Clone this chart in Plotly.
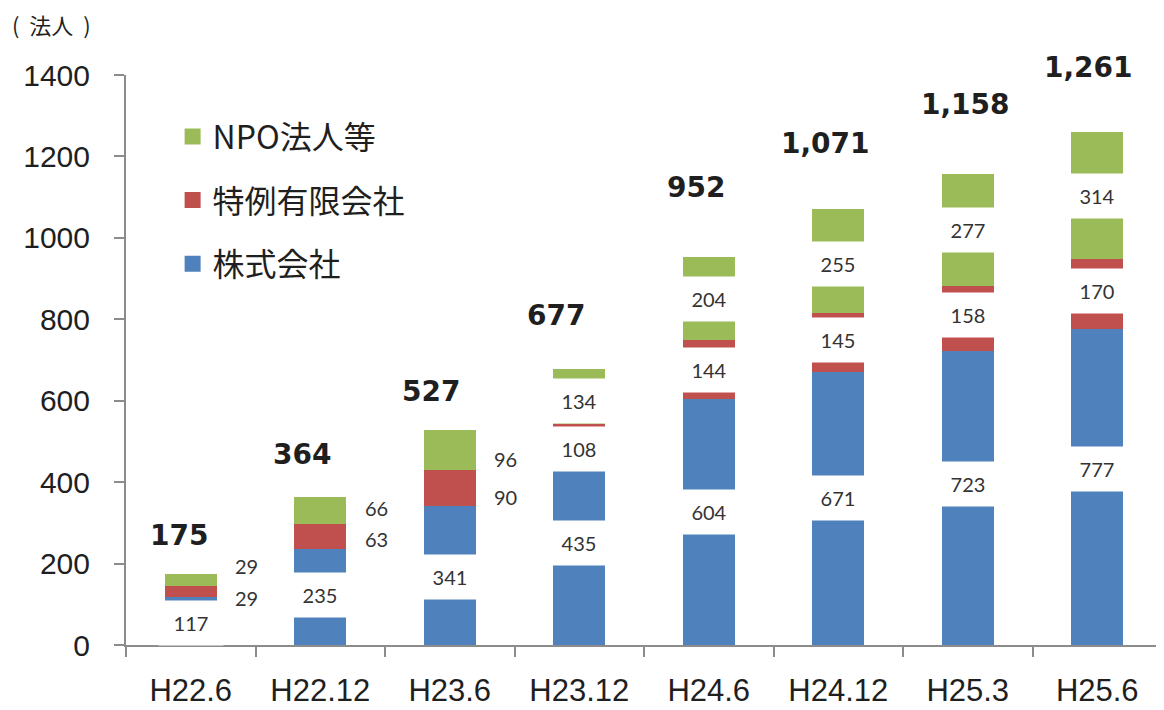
import plotly.graph_objects as go

# ---------------- data ----------------
categories = ["H22.6", "H22.12", "H23.6", "H23.12", "H24.6", "H24.12", "H25.3", "H25.6"]
kabushiki = [117, 235, 341, 435, 604, 671, 723, 777]      # 株式会社
tokurei = [29, 63, 90, 108, 144, 145, 158, 170]           # 特例有限会社
npo = [29, 66, 96, 134, 204, 255, 277, 314]               # NPO法人等
totals = [175, 364, 527, 677, 952, 1071, 1158, 1261]

series_names = ["株式会社", "特例有限会社", "NPO法人等"]

# ---------------- style ----------------
C_BLUE = "#4F81BD"
C_RED = "#C0504D"
C_GREEN = "#9BBB59"
AXIS_C = "#8c8c8c"
TXT = "#1f1f1f"

# label fine-tuning (pixels) – layout only
outside_labels = [True, True, True, False, False, False, False, False]
blue_yshift = [-2, 2, -1, 13, 10, 10, 14, 18]
red_yshift = [-7, -2, -9, -3, 0, 2, 3, 3]
green_yshift = [14, 2, -9, -4, 0, -3, 0, 0]
total_xshift = [-12, -18, -19, -23, -13, -13, -2, -9]
total_yshift = [38, 42, 39, 54, 70, 65, 69, 64]

fig = go.Figure()

for name, vals, col in [(series_names[0], kabushiki, C_BLUE),
                        (series_names[1], tokurei, C_RED),
                        (series_names[2], npo, C_GREEN)]:
    fig.add_trace(go.Bar(x=categories, y=vals, name=name, marker=dict(color=col, line=dict(width=0)),
                         showlegend=False, legendgroup=name))

# legend proxies (larger square symbols), top to bottom
for name, col in [(series_names[2], C_GREEN), (series_names[1], C_RED), (series_names[0], C_BLUE)]:
    fig.add_trace(go.Scatter(x=[None], y=[None], mode="markers", name=name, legendgroup=name,
                             marker=dict(symbol="square", size=16, color=col), showlegend=True))

annotations = []
lab_font = dict(family="Lato, Open Sans, sans-serif", size=20, color="#333333")
for i, cat in enumerate(categories):
    b, r, g = kabushiki[i], tokurei[i], npo[i]
    segs = [(b, b / 2, blue_yshift[i], False),
            (r, b + r / 2, red_yshift[i], outside_labels[i]),
            (g, b + r + g / 2, green_yshift[i], outside_labels[i])]
    for val, ymid, ys, outside in segs:
        a = dict(x=cat, y=ymid, xref="x", yref="y", text=str(val), showarrow=False,
                 font=lab_font, yshift=ys, xanchor="center", yanchor="middle")
        if outside:
            a["xshift"] = 56
        else:
            a.update(width=62, height=42, bgcolor="white")
        annotations.append(a)
    annotations.append(dict(x=cat, y=totals[i], xref="x", yref="y", text=f"{totals[i]:,}",
                            showarrow=False, xshift=total_xshift[i], yshift=total_yshift[i],
                            font=dict(family="DejaVu Sans", size=28, color=TXT, weight="bold"),
                            xanchor="center", yanchor="middle"))

annotations.append(dict(x=-0.112, y=1.0892, xref="paper", yref="paper",
                        text="(\u00a0\u00a0法人\u00a0\u00a0)",
                        showarrow=False, xanchor="left", yanchor="middle",
                        font=dict(family="Noto Sans CJK JP", size=22, color=TXT)))

# page body adds an 8px offset, so the figure is drawn 8px smaller than the window
fig.update_layout(
    width=1156, height=702,
    margin=dict(l=118, r=2, t=67, b=63),
    paper_bgcolor="white", plot_bgcolor="white",
    barmode="stack", bargap=0.6,
    annotations=annotations,
    legend=dict(x=0.045, y=0.94, xanchor="left", yanchor="top", traceorder="grouped",
                tracegroupgap=19, bgcolor="rgba(0,0,0,0)",
                font=dict(family="Noto Sans CJK JP", size=32, color=TXT)),
    xaxis=dict(showline=True, linecolor=AXIS_C, linewidth=2, ticks="outside", tickson="boundaries",
               ticklen=10, tickwidth=2, tickcolor=AXIS_C, showgrid=False,
               tickfont=dict(family="Liberation Sans", size=31, color=TXT), ticklabelstandoff=17),
    yaxis=dict(range=[0, 1400], dtick=200, showline=True, linecolor=AXIS_C, linewidth=2,
               ticks="outside", ticklen=10, tickwidth=2, tickcolor=AXIS_C, showgrid=False,
               zeroline=False, tickfont=dict(family="Liberation Sans", size=30, color=TXT),
               ticklabelstandoff=18),
)

fig.write_html("out.html")
